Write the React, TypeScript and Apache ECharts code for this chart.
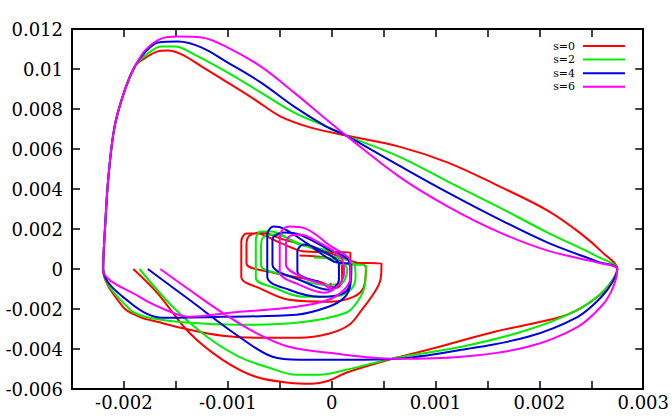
import React, { useEffect, useRef } from 'react';
import * as echarts from 'echarts';

const seriesNames = ['s=0', 's=2', 's=4', 's=6'];
const seriesColors = ['#ff0000', '#00ee00', '#0000dd', '#ff00ff'];

const xTicks = { min: -0.0025, max: 0.003, interval: 0.0005 };
const yTicks = { min: -0.006, max: 0.012, interval: 0.002 };

const s0: number[][] = [
  [-0.00191, 0], [-0.00168, -0.00119], [-0.00137, -0.00319], [-0.00105, -0.00454], [-0.00073, -0.00539],
  [-0.00041, -0.00569], [-0.0002, -0.00574], [-0.00003, -0.00559], [0.00014, -0.00519], [0.00055, -0.00454],
  [0.00093, -0.00404], [0.00157, -0.00314], [0.00221, -0.00239], [0.00242, -0.00189], [0.00256, -0.00139],
  [0.00268, -0.00074], [0.00275, 0],
  [0.00261, 0.00082], [0.0024, 0.00177], [0.00208, 0.00292], [0.0016, 0.00417], [0.00112, 0.00532],
  [0.00065, 0.00612], [0.00014, 0.00667], [-0.0002, 0.00707], [-0.00049, 0.00762], [-0.00074, 0.00847],
  [-0.001, 0.00932], [-0.00125, 0.01012], [-0.00144, 0.01072], [-0.00158, 0.01092], [-0.00168, 0.01087],
  [-0.00179, 0.01057], [-0.00189, 0.01017], [-0.00199, 0.00897], [-0.00209, 0.00712], [-0.00215, 0.00457],
  [-0.00218, 0.00222], [-0.0022, 0],
  [-0.00201, -0.00189], [-0.00185, -0.00239], [-0.00168, -0.00264], [-0.00137, -0.00304], [-0.00105, -0.00334],
  [-0.0007, -0.00344], [-0.00031, -0.00344], [-0.00003, -0.00324], [0.00017, -0.00279], [0.00029, -0.00204],
  [0.00041, -0.00119], [0.00047, -0.00054], [0.00048, 0.00027],
  [0.00018, 0.00032], [0.00018, 0.00082], [-0.00025, 0.00087], [-0.0005, 0.00132], [-0.00072, 0.00177],
  [-0.00082, 0.00177], [-0.00087, 0.00137], [-0.00087, -0.00039], [-0.00068, -0.00099], [-0.00041, -0.00154],
  [-0.00003, -0.00164], [0.00021, -0.00139], [0.00031, -0.00089], [0.00033, 0.00007],
  [0.00021, 0.00037], [-0.00012, 0.00097], [-0.00046, 0.00147], [-0.00068, 0.00182], [-0.00079, 0.00167],
  [-0.00082, 0.00122], [-0.00082, 0.00027], [-0.0006, -0.00014], [-0.00012, -0.00064], [0.00005, -0.00094],
  [0.0001, -0.00054], [0.0001, 0.00027], [-0.00007, 0.00057], [-0.00031, 0.00067],
];

const s2: number[][] = [
  [-0.00185, 0], [-0.00153, -0.00189], [-0.0012, -0.00339], [-0.00089, -0.00439], [-0.0006, -0.00494],
  [-0.00034, -0.00529], [-0.00012, -0.00529], [0.00014, -0.00504], [0.00062, -0.00444], [0.00125, -0.00389],
  [0.00189, -0.00304], [0.00237, -0.00204], [0.00259, -0.00124], [0.0027, -0.00059], [0.00275, 0],
  [0.00256, 0.00062], [0.00208, 0.00182], [0.0016, 0.00312], [0.00112, 0.00437], [0.00065, 0.00562],
  [0.00014, 0.00667], [-0.00005, 0.00712], [-0.00036, 0.00782], [-0.00068, 0.00882], [-0.001, 0.00982],
  [-0.00132, 0.01072], [-0.00151, 0.01112], [-0.00164, 0.01112], [-0.00177, 0.01077],
  [-0.00189, 0.01017], [-0.00199, 0.00897], [-0.00209, 0.00712], [-0.00215, 0.00457], [-0.00218, 0.00222],
  [-0.0022, 0],
  [-0.00194, -0.00204], [-0.00175, -0.00244], [-0.00137, -0.00269], [-0.00089, -0.00279], [-0.00034, -0.00269],
  [0.00014, -0.00219], [0.00026, -0.00154], [0.00032, -0.00079], [0.00033, 0.00017],
  [0.00007, 0.00027], [0.00005, 0.00077], [-0.00031, 0.00122], [-0.00058, 0.00187], [-0.00068, 0.00187],
  [-0.00073, 0.00147], [-0.00073, -0.00044], [-0.00055, -0.00094], [-0.00027, -0.00139], [0.00002, -0.00139],
  [0.00018, -0.00104], [0.00023, -0.00044], [0.00022, 0.00022],
  [0.00002, 0.00062], [-0.00031, 0.00127], [-0.00055, 0.00172], [-0.00066, 0.00157], [-0.00068, 0.00112],
  [-0.00068, 0.00017], [-0.00046, -0.00029], [-0.00007, -0.00079], [0.00009, -0.00074], [0.00015, -0.00004],
  [0.00002, 0.00047], [-0.00017, 0.00057],
];

const s4: number[][] = [
  [-0.00177, 0], [-0.00137, -0.00154], [-0.00089, -0.00339], [-0.00057, -0.00439], [-0.00031, -0.00454],
  [0.00017, -0.00454], [0.00062, -0.00449], [0.00125, -0.00404], [0.00189, -0.00339], [0.00237, -0.00239],
  [0.00259, -0.00144], [0.0027, -0.00069], [0.00275, 0],
  [0.00256, 0.00037], [0.00208, 0.00132], [0.0016, 0.00252], [0.00112, 0.00382], [0.00065, 0.00517],
  [0.00014, 0.00667], [-0.00005, 0.00712], [-0.00036, 0.00812], [-0.00068, 0.00932], [-0.001, 0.01032],
  [-0.00125, 0.01107], [-0.00148, 0.01137], [-0.00167, 0.01132], [-0.00179, 0.01087],
  [-0.00189, 0.01017], [-0.00199, 0.00897], [-0.00209, 0.00712], [-0.00215, 0.00457], [-0.00218, 0.00222],
  [-0.0022, 0],
  [-0.00194, -0.00169], [-0.00163, -0.00244], [-0.00105, -0.00239], [-0.00034, -0.00229], [-0.00003, -0.00189],
  [0.00012, -0.00144], [0.00018, -0.00079], [0.00019, 0.00017],
  [0.00002, 0.00037], [-0.00022, 0.00122], [-0.00046, 0.00202], [-0.00056, 0.00212], [-0.00062, 0.00172],
  [-0.00062, -0.00039], [-0.00041, -0.00104], [-0.00012, -0.00139], [0.00012, -0.00119], [0.00018, -0.00054],
  [0.00017, 0.00037],
  [-0.00003, 0.00097], [-0.00031, 0.00172], [-0.00046, 0.00182], [-0.00057, 0.00147], [-0.00057, 0.00022],
  [-0.00031, -0.00054], [-0.00003, -0.00104], [0.00007, -0.00054], [0.00007, 0.00022],
  [-0.00012, 0.00097], [-0.00027, 0.00122], [-0.00033, 0.00087], [-0.00033, -0.00014], [-0.00012, -0.00064],
];

const s6: number[][] = [
  [-0.00165, 0], [-0.00137, -0.00104], [-0.00105, -0.00219], [-0.00073, -0.00319], [-0.00041, -0.00389],
  [-0.00003, -0.00419], [0.00062, -0.00449], [0.00125, -0.00439], [0.00189, -0.00389], [0.00237, -0.00289],
  [0.00261, -0.00179], [0.0027, -0.00104], [0.00274, -0.00044], [0.00275, 0],
  [0.00256, 0.00032], [0.00208, 0.00092], [0.0016, 0.00187], [0.00112, 0.00312], [0.00065, 0.00462],
  [0.00014, 0.00667], [-0.00005, 0.00747], [-0.00036, 0.00882], [-0.00068, 0.01012], [-0.001, 0.01107],
  [-0.00125, 0.01157], [-0.00148, 0.01162], [-0.00164, 0.01152], [-0.00179, 0.01097],
  [-0.00189, 0.01017], [-0.00199, 0.00897], [-0.00209, 0.00712], [-0.00215, 0.00457], [-0.00218, 0.00222],
  [-0.0022, 0],
  [-0.00185, -0.00139], [-0.00153, -0.00219], [-0.00137, -0.00239], [-0.00098, -0.00219], [-0.00034, -0.00189],
  [-0.00003, -0.00154], [0.00012, -0.00104], [0.00018, -0.00044], [0.00018, 0.00032],
  [-0.00003, 0.00122], [-0.00025, 0.00202], [-0.00041, 0.00212], [-0.00049, 0.00182], [-0.0005, 0.00122],
  [-0.0005, -0.00014], [-0.00031, -0.00079], [-0.00007, -0.00119], [0.00007, -0.00079], [0.00012, -0.00014],
  [0.00009, 0.00057], [-0.00012, 0.00132], [-0.00031, 0.00172], [-0.00041, 0.00162], [-0.00044, 0.00122],
  [-0.00044, 0.00022], [-0.00027, -0.00044], [-0.00007, -0.00079], [-0.00001, -0.00104], [-0.00001, -0.00069],
];

const seriesData = [s0, s2, s4, s6];

const FONT = 'DejaVu Serif';

function fmt(v: number): string {
  return String(Math.round(v * 1e6) / 1e6);
}

export default function App() {
  const ref = useRef<HTMLDivElement>(null);
  useEffect(() => {
    document.body.style.margin = '0';
    const chart = echarts.init(ref.current!, null, { renderer: 'svg' });
    const axisLine = { onZero: false, lineStyle: { color: '#000', width: 2 } };
    const axisTick = { inside: true, length: 8, lineStyle: { color: '#000', width: 1.5 } };
    const labelStyle = { fontFamily: FONT, fontSize: 18, color: '#000' };
    chart.setOption({
      animation: false,
      backgroundColor: '#fff',
      grid: { left: 72, right: 26, top: 29, bottom: 31, containLabel: false },
      legend: {
        orient: 'vertical',
        right: 42,
        top: 35,
        align: 'right',
        icon: 'rect',
        itemWidth: 42,
        itemHeight: 2,
        itemGap: 1.6,
        data: seriesNames,
        textStyle: { fontFamily: FONT, fontSize: 11, lineHeight: 12, color: '#000', padding: [0, 3, 0, 0] },
      },
      xAxis: [
        {
          type: 'value', position: 'bottom', ...xTicks,
          axisLine, axisTick, splitLine: { show: false },
          axisLabel: {
            ...labelStyle, margin: 4, showMinLabel: true, showMaxLabel: true,
            formatter: (v: number) => (Math.abs(v * 1000 - Math.round(v * 1000)) < 1e-6 ? fmt(v) : ''),
          },
        },
        {
          type: 'value', position: 'top', ...xTicks,
          axisLine, axisTick, splitLine: { show: false }, axisLabel: { show: false },
        },
      ],
      yAxis: [
        {
          type: 'value', position: 'left', ...yTicks,
          axisLine, axisTick, splitLine: { show: false },
          axisLabel: { ...labelStyle, margin: 9, showMinLabel: true, showMaxLabel: true, formatter: (v: number) => fmt(v) },
        },
        {
          type: 'value', position: 'right', ...yTicks,
          axisLine, axisTick, splitLine: { show: false }, axisLabel: { show: false },
        },
      ],
      series: seriesData.map((d, i) => ({
        type: 'line',
        name: seriesNames[i],
        data: d,
        xAxisIndex: 0,
        yAxisIndex: 0,
        symbol: 'none',
        showSymbol: false,
        smooth: 0.35,
        color: seriesColors[i],
        lineStyle: { width: 2, color: seriesColors[i] },
        itemStyle: { color: seriesColors[i] },
      })),
    });
    return () => chart.dispose();
  }, []);
  return <div ref={ref} style={{ width: 672, height: 420 }} />;
}
